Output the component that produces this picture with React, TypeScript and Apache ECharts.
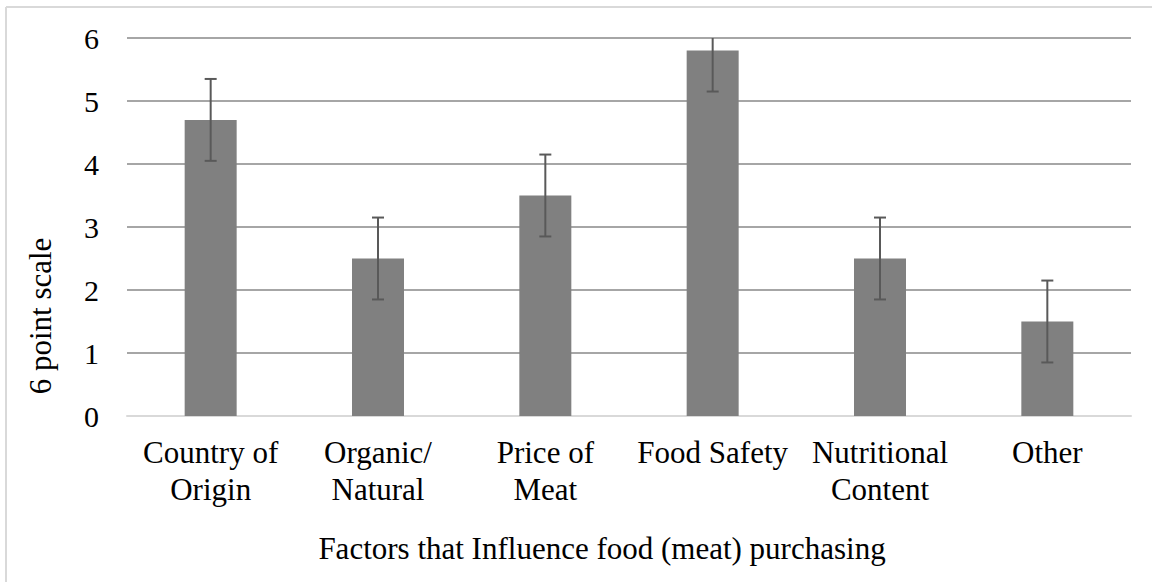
import React, { useEffect, useRef } from "react";
import * as echarts from "echarts";

const categories = [
  "Country of\nOrigin",
  "Organic/\nNatural",
  "Price of\nMeat",
  "Food Safety",
  "Nutritional\nContent",
  "Other",
];
const values = [4.7, 2.5, 3.5, 5.8, 2.5, 1.5];
const errors = [0.65, 0.65, 0.65, 0.65, 0.65, 0.65];
const yTicks = { min: 0, max: 6, interval: 1 };
const xTitle = "Factors that Influence food (meat) purchasing";
const yTitle = "6 point scale";

const FONT = "'Liberation Serif', 'Times New Roman', serif";

export default function App() {
  const ref = useRef<HTMLDivElement>(null);
  useEffect(() => {
    if (!ref.current) return;
    const chart = echarts.init(ref.current, null, { renderer: "svg" });
    const errData = values.map((v, i) => [i, v - errors[i], v + errors[i]]);
    chart.setOption({
      animation: false,
      backgroundColor: "#ffffff",
      grid: { left: 127, right: 21, top: 38, bottom: 166, containLabel: false },
      graphic: [
        {
          type: "line",
          shape: { x1: 6, y1: 7, x2: 1152, y2: 7 },
          style: { stroke: "#d9d9d9", lineWidth: 2 },
        },
        {
          type: "line",
          shape: { x1: 6, y1: 7, x2: 6, y2: 582 },
          style: { stroke: "#d9d9d9", lineWidth: 2 },
        },
        {
          type: "text",
          x: 602,
          y: 548,
          style: {
            text: xTitle,
            fontFamily: FONT,
            fontSize: 31,
            fill: "#000",
            align: "center",
            verticalAlign: "middle",
          },
        },
        {
          type: "text",
          x: 40,
          y: 316,
          rotation: Math.PI / 2,
          style: {
            text: yTitle,
            fontFamily: FONT,
            fontSize: 31,
            fill: "#000",
            align: "center",
            verticalAlign: "middle",
          },
        },
      ],
      xAxis: {
        type: "category",
        data: categories,
        axisLine: { show: true, lineStyle: { color: "#d9d9d9", width: 2 } },
        axisTick: { show: false },
        axisLabel: {
          fontFamily: FONT,
          fontSize: 31,
          color: "#000",
          lineHeight: 37,
          margin: 18,
          interval: 0,
        },
      },
      yAxis: {
        type: "value",
        min: yTicks.min,
        max: yTicks.max,
        interval: yTicks.interval,
        axisLine: { show: false },
        axisTick: { show: false },
        axisLabel: {
          fontFamily: FONT,
          fontSize: 30,
          color: "#000",
          margin: 28,
        },
        splitLine: { lineStyle: { color: "#a6a6a6", width: 2 } },
      },
      series: [
        {
          type: "bar",
          data: values,
          barWidth: 52,
          itemStyle: { color: "#808080" },
          z: 2,
        },
        {
          type: "custom",
          clip: true,
          z: 3,
          data: errData,
          renderItem: (params: any, api: any) => {
            const x = api.value(0);
            const lo = api.coord([x, api.value(1)]);
            const hi = api.coord([x, api.value(2)]);
            const half = 6;
            const style = { stroke: "#595959", lineWidth: 2 };
            return {
              type: "group",
              children: [
                { type: "line", shape: { x1: lo[0], y1: lo[1], x2: hi[0], y2: hi[1] }, style },
                { type: "line", shape: { x1: hi[0] - half, y1: hi[1], x2: hi[0] + half, y2: hi[1] }, style },
                { type: "line", shape: { x1: lo[0] - half, y1: lo[1], x2: lo[0] + half, y2: lo[1] }, style },
              ],
            };
          },
        },
      ],
    });
    return () => chart.dispose();
  }, []);
  return (
    <div
      ref={ref}
      style={{ position: "fixed", left: 0, top: 0, width: 1152, height: 582, background: "#fff" }}
    />
  );
}
